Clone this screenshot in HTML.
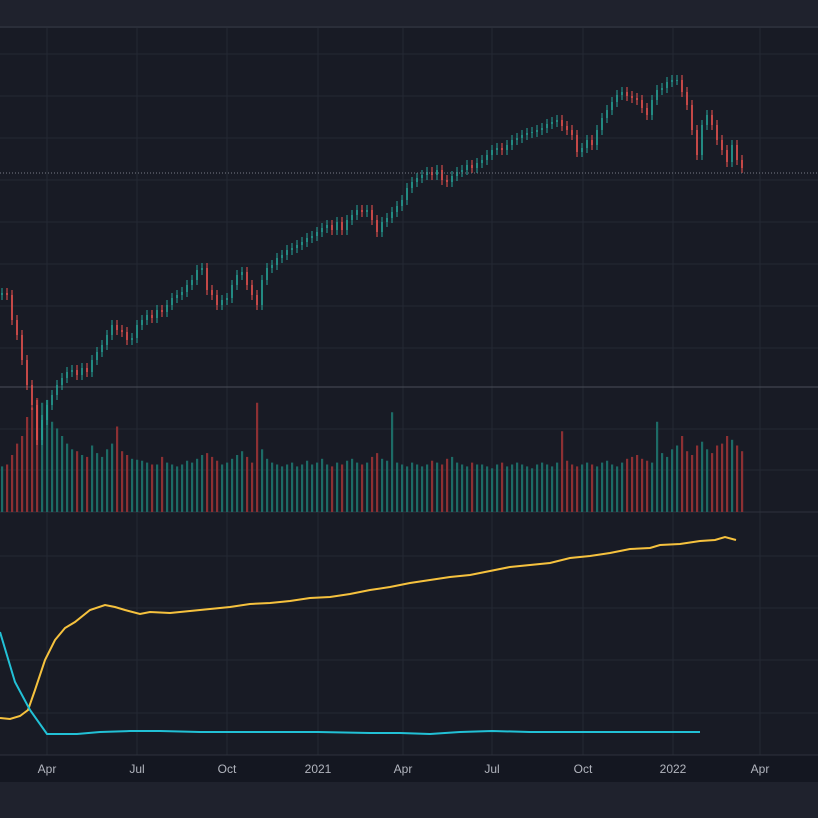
<!DOCTYPE html>
<html><head><meta charset="utf-8">
<style>
html,body{margin:0;padding:0;background:#1f222d;}
svg{display:block;font-family:"Liberation Sans",sans-serif;}
</style></head>
<body>
<svg id="chart" width="818" height="818" viewBox="0 0 818 818">
  <rect x="0" y="0" width="818" height="26" fill="#1f222d"/>
  <rect x="0" y="26" width="818" height="2" fill="#2a2e39"/>
  <rect x="0" y="28" width="818" height="727" fill="#181b25"/>
  <rect x="0" y="755" width="818" height="27" fill="#141721"/>
  <rect x="0" y="782" width="818" height="36" fill="#1f222d"/>
  <g id="grid"></g>
  <g id="volume"></g>
  <g id="candles"></g>
  <g id="indicator"></g>
  <g id="axis"></g>
</svg>
<script>
// Price closes (index units), one per ~3 trading days
const closes = [307,305,280,265,240,215,195,160,180,195,205,215,222,228,230,225,232,228,240,248,255,265,275,270,268,260,262,275,280,285,282,290,288,295,302,305,308,315,320,330,332,310,305,295,300,302,315,325,328,315,305,295,320,332,335,342,345,350,352,355,358,362,364,368,372,375,370,378,370,380,385,390,388,390,380,368,378,382,388,394,400,412,418,422,425,428,425,430,420,418,424,428,430,435,432,437,440,445,450,452,450,455,460,462,465,467,468,470,472,476,478,480,474,470,465,448,452,460,455,470,482,490,498,505,508,504,502,500,492,485,500,510,512,518,520,520,508,495,470,445,475,485,475,460,450,438,455,440,432];
// Volume per bar (arbitrary units)
const volumes = [48,50,60,72,80,100,110,120,115,118,95,88,80,72,66,64,60,58,70,62,58,66,72,90,64,60,56,55,54,52,50,50,58,52,50,48,50,54,52,56,60,62,58,54,50,52,56,60,64,58,52,115,66,56,52,50,48,50,52,48,50,54,50,52,56,50,48,52,50,54,56,52,50,52,58,62,56,54,105,52,50,48,52,50,48,50,54,52,50,56,58,52,50,48,52,50,50,48,46,50,52,48,50,52,50,48,46,50,52,50,48,52,85,54,50,48,50,52,50,48,52,54,50,48,52,56,58,60,56,54,52,95,62,58,66,70,80,64,60,70,74,66,62,70,72,80,76,70,64];
// Indicator series: bar index of sample and value (0-100 scale)
const yellowIdx = [-0.4,1.6,3.6,5.2,6.6,8.6,10.6,12.6,14.6,17.6,20.6,22.6,24.6,27.6,29.6,33.6,37.6,41.6,45.6,49.6,53.6,57.6,61.6,65.6,69.6,73.6,77.6,81.6,85.6,89.6,93.6,97.6,101.6,105.6,109.6,113.6,117.6,121.6,125.6,129.6,131.6,135.6,139.6,142.6,144.6,146.8];
const yellowVals = [11,10.5,12,15,25,40,50,56,59,65,67.5,66.5,65,63,64,63.5,64.5,65.5,66.5,68,68.5,69.5,71,71.5,73,75,76.5,78.5,80,81.5,82.5,84.5,86.5,87.5,88.5,91,92,93.5,95.5,96,97.5,98,99.5,100,101.5,100];
const cyanIdx = [-0.4,2.6,5.6,9,15,19.6,25.6,31.6,39.6,63.2,73.6,79.6,85.6,91.6,98,105.6,116.2,139.6];
const cyanVals = [54,29,15,3,3,4,4.5,4.5,4,4,3.5,3.5,3,4,4.5,4,4,4];
const tickLabels = ["Apr","Jul","Oct","2021","Apr","Jul","Oct","2022","Apr"];
const tickIdx = [9,27,45,63.2,80.2,98,116.2,134.2,151.6];
const lastClose = 427;

const svg = document.getElementById('chart');
const NS = 'http://www.w3.org/2000/svg';
const xS = i => 2 + i*5;
const yP = v => 600 - v;
const yV = v => 512 - v*0.95;
const yI = v => 740 - v*2;
function mk(tag, attrs, parent){const e=document.createElementNS(NS,tag);for(const k in attrs)e.setAttribute(k,attrs[k]);parent.appendChild(e);return e;}

const grid = document.getElementById('grid');
for (let k=0;k<tickIdx.length;k++){
  const l = mk('line',{x1:xS(tickIdx[k]),x2:xS(tickIdx[k]),y1:28,y2:755,stroke:'#242833','stroke-width':1},grid);
  
  
}
[54,96,138,180,222,264,306,348,429,470,556,608,660,713].forEach(y=>{
  const l = mk('line',{x1:0,x2:818,y1:y,y2:y,stroke:'#242833','stroke-width':1},grid);
  
  
});
[[387,'#4a4e59'],[512,'#2e323d'],[755,'#2e323d']].forEach(([y,c])=>{
  const l = mk('line',{x1:0,x2:818,y1:y,y2:y,stroke:c,'stroke-width':1},grid);
  
  
});

const vol = document.getElementById('volume');
const cg = document.getElementById('candles');
for (let i=0;i<closes.length;i++){
  const o = i>0?closes[i-1]:closes[i]-2;
  const c = closes[i];
  const up = c>=o;
  const x = xS(i);
  const vb = mk('rect',{x:x-1,y:yV(volumes[i]),width:2.2,height:512-yV(volumes[i]),fill:up?'#1d6b66':'#8c3033'},vol);
  
  
  const col = up?'#26a69a':'#ef5350';
  const top = yP(Math.max(o,c)), bot = yP(Math.min(o,c));
  const w = mk('line',{x1:x,x2:x,y1:top-5,y2:bot+5,stroke:col,'stroke-width':1},cg);
  
  
  const b = mk('rect',{x:x-0.8,y:top,width:1.6,height:Math.max(1,bot-top),fill:col},cg);
  
  
}
const ll = mk('line',{x1:0,x2:818,y1:yP(lastClose),y2:yP(lastClose),stroke:'#787b86','stroke-width':1,'stroke-dasharray':'1,2'},cg);



const ind = document.getElementById('indicator');
const yl = mk('polyline',{points:yellowIdx.map((t,k)=>xS(t)+','+yI(yellowVals[k])).join(' '),fill:'none',stroke:'#f6c23e','stroke-width':2},ind);


const cl = mk('polyline',{points:cyanIdx.map((t,k)=>xS(t)+','+yI(cyanVals[k])).join(' '),fill:'none',stroke:'#22c1d6','stroke-width':2},ind);



const ax = document.getElementById('axis');
for (let k=0;k<tickLabels.length;k++){
  const t = mk('text',{x:xS(tickIdx[k]),y:773,'text-anchor':'middle','font-size':12,fill:'#b2b5be'},ax);
  t.textContent = tickLabels[k];
  
  
}
</script>
</body></html>
